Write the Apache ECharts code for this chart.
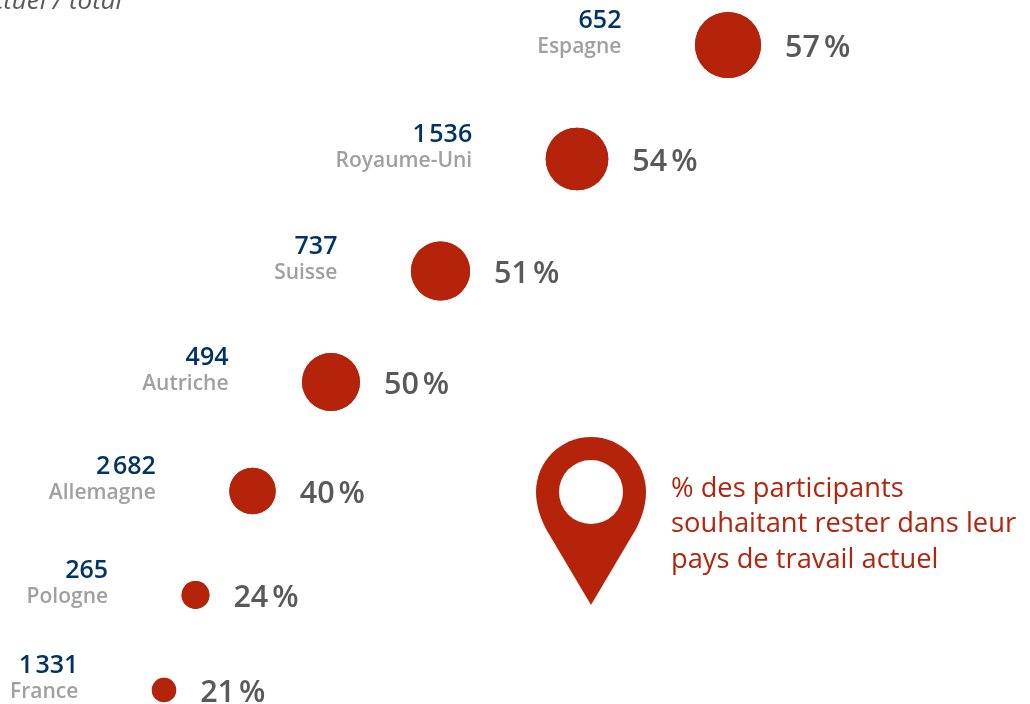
<!DOCTYPE html>
<html><head><meta charset="utf-8">
<style>html,body{margin:0;padding:0;background:#fff}#c{width:1030px;height:704px}</style>
<script src="https://cdn.jsdelivr.net/npm/echarts@6/dist/echarts.min.js"></script>
</head><body><div id="c"></div>
<script>
const countries = ['Espagne','Royaume-Uni','Suisse','Autriche','Allemagne','Pologne','France'];
const participants = ['652','1\u200A536','737','494','2\u200A682','265','1\u200A331'];
const shares = [57,54,51,50,40,24,21];
const alongX = [72.8,57.7,44.05,33.1,25.25,19.55,16.4];
const alongY = [4.5,15.9,27.1,38.2,49.1,59.5,69.0];
const legendLines = ['% des participants','souhaitant rester dans leur','pays de travail actuel'];
const cornerNote = 'actuel / total';

const RED='#B5230A', FONT='"Open Sans","Noto Sans",sans-serif';
const PIN='path://M55 0C24.6 0 0 24.6 0 55C0 68 4 80 10 92L55 168L100 92C106 80 110 68 110 55C110 24.6 85.4 0 55 0Z';
const points = shares.map((s,i)=>({value:[alongX[i],alongY[i],s],name:countries[i],idx:i}));
const sizeOf = v => v[2]*1.16;
const chart = echarts.init(document.getElementById('c'),null,{renderer:'canvas'});
chart.setOption({
  animation:false,
  backgroundColor:'#fff',
  grid:{left:0,right:0,top:0,bottom:0},
  xAxis:{type:'value',min:0,max:103,show:false},
  yAxis:{type:'value',min:0,max:70.4,inverse:true,show:false},
  series:[
    {type:'scatter',z:2,data:[[59.1,52.1]],symbol:PIN,symbolSize:[110,168],symbolKeepAspect:false,
     itemStyle:{color:RED,opacity:1},silent:true},
    {type:'scatter',z:3,data:[[59.1,49.2]],symbol:'circle',symbolSize:64,
     itemStyle:{color:'#fff',opacity:1},silent:true},
    {type:'scatter',z:2,data:points,symbolSize:sizeOf,itemStyle:{color:RED,opacity:1},
     label:{show:true,position:'right',distance:24,offset:[0,3],
       formatter:p=>p.value[2]+'\u202F%',
       fontFamily:FONT,fontSize:30.5,fontWeight:600,color:'#595959'}},
    {type:'scatter',z:2,data:points,symbolSize:sizeOf,itemStyle:{color:RED,opacity:1},
     label:{show:true,position:'left',distance:73.5,offset:[0,-11],align:'right',
       formatter:p=>'{n|'+participants[p.data.idx]+'}\n{c|'+p.name+'}',
       rich:{
         n:{fontFamily:FONT,fontSize:25,fontWeight:600,color:'#003466',lineHeight:26,align:'right'},
         c:{fontFamily:FONT,fontSize:21,fontWeight:600,color:'#A0A0A0',lineHeight:26,align:'right'}
       }}}
  ],
  graphic:[
    ...legendLines.map((t,i)=>({type:'text',silent:true,x:671,y:489+i*35.5,
       style:{text:t,fontFamily:FONT,fontSize:27.3,fill:RED,textAlign:'left',textVerticalAlign:'middle'}})),
    {type:'text',silent:true,x:122,y:2,
     style:{text:cornerNote,fontFamily:FONT,fontSize:26,fontStyle:'italic',fill:'#595959',textAlign:'right',textVerticalAlign:'middle'}}
  ]
});
</script></body></html>
